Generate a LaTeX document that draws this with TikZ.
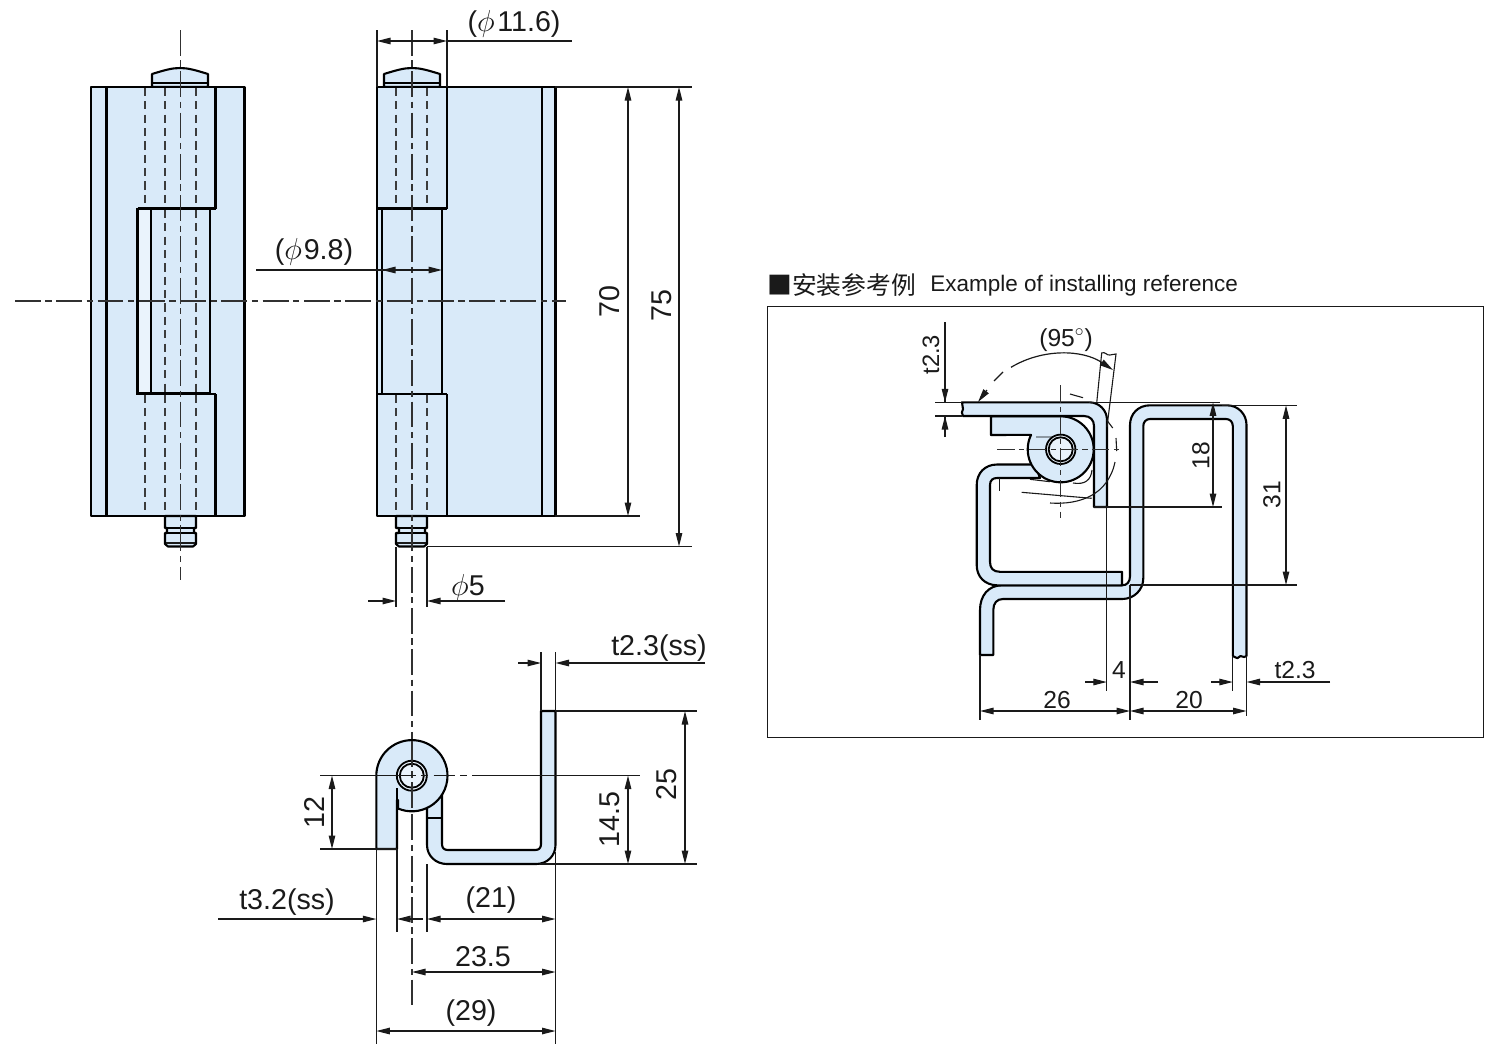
\documentclass[tikz,border=0pt]{standalone}
\usepackage{fontspec}
\setmainfont{Liberation Sans}
\newfontfamily\cjkfont{Noto Sans CJK SC}
\usetikzlibrary{arrows.meta}
\definecolor{partfill}{HTML}{D9EAF9}
\definecolor{partlight}{HTML}{EAF3FC}
\definecolor{inkc}{HTML}{1A1A1A}
\tikzset{
  x=0.02cm,y=-0.02cm,
  part/.style={draw=black,fill=partfill,line width=0.042cm,line join=round},
  edge/.style={draw=black,line width=0.042cm},
  hidden/.style={draw=inkc!85,line width=0.024cm,dash pattern=on 4.6pt off 3pt},
  centre/.style={draw=inkc!90,line width=0.024cm,dash pattern=on 14.7pt off 2.6pt on 3.6pt off 2.6pt},
  thin line/.style={draw=inkc,line width=0.022cm},
  dimline/.style={draw=inkc,line width=0.024cm,>={Triangle[length=0.27cm,width=0.13cm]}},
  lab/.style={font=\fontsize{16.3}{18}\selectfont,text=inkc,inner sep=0pt,yshift=-1pt},
  vlab/.style={lab,rotate=90},
}
\begin{document}
\begin{tikzpicture}
\fill[white] (0,0) rectangle (1500,1056);
\useasboundingbox (0,0) rectangle (1500,1056);

% ===== left view =====
\path[part] (152,87)--(152,74) .. controls (165,70) and (172,68) .. (180,68) .. controls (188,68) and (195,70) .. (208,74)--(208,87)--cycle;
\draw[edge] (152,83)--(208,83);
\path[part] (91,87) rectangle (244.5,516);
\draw[edge] (106.5,87)--(106.5,516);
\draw[edge] (106.5,87)--(215.5,87)--(215.5,208.5);
\draw[edge] (106.5,516)--(215.5,516)--(215.5,394);
\fill[partlight] (137.5,209) rectangle (150.7,393.5);
\draw[edge] (137.5,209) rectangle (210,393.5);
\draw[edge] (150.7,209)--(150.7,393.5);
\draw[edge] (137.5,208.5)--(215.5,208.5);
\draw[edge] (137.5,393.8)--(215.5,393.8);
\foreach \hx in {145,165,196}{\draw[hidden] (\hx,88)--(\hx,208);}
\foreach \hx in {145,165,196}{\draw[hidden] (\hx,395)--(\hx,515);}
\foreach \hx in {165,196}{\draw[hidden] (\hx,210)--(\hx,393);}
\path[part] (165,516)--(165,528)--(167,528)--(167,533)--(165,533)--(165,544)--(168,546.5)--(193,546.5)--(196,544)--(196,533)--(194,533)--(194,528)--(196,528)--(196,516)--cycle;
\draw[edge] (165,528)--(196,528);
\draw[edge] (165,533)--(196,533);
\draw[thin line] (166,543)--(195,543);

% ===== middle view =====
\path[part] (384,87)--(384,74) .. controls (397,70) and (404,68) .. (412,68) .. controls (420,68) and (427,70) .. (440,74)--(440,87)--cycle;
\draw[edge] (384,83)--(440,83);
\path[part] (377,87) rectangle (555.5,516);
\draw[edge] (542,87)--(542,516);
\draw[edge] (447,87)--(447,208.5);
\draw[edge] (447,394)--(447,516);
\draw[edge] (377,208.5)--(447,208.5);
\draw[edge] (377,393.8)--(447,393.8);
\draw[edge] (382,208.5)--(382,393.8);
\draw[edge] (442,208.5)--(442,393.8);
\foreach \hx in {396,427}{\draw[hidden] (\hx,88)--(\hx,208);}
\foreach \hx in {396,427}{\draw[hidden] (\hx,395)--(\hx,515);}
\path[part] (396,516)--(396,528)--(399,528)--(399,533)--(396,533)--(396,544)--(399,546.5)--(424,546.5)--(427,544)--(427,533)--(425,533)--(425,528)--(427,528)--(427,516)--cycle;
\draw[edge] (396,528)--(427,528);
\draw[edge] (396,533)--(427,533);
\draw[thin line] (397,543)--(426,543);

% centre lines
\draw[centre] (180.3,30)--(180.3,580);
\draw[centre] (412,30)--(412,1005);
\draw[centre] (15,301)--(566,301);

% ===== end view =====
\path[part] (427,800)--(427,845) .. controls (427,856) and (436,864) .. (447,864)--(536,864) .. controls (547,864) and (555.5,856) .. (555.5,845) -- (555.5,711) -- (541,711) -- (541,844) .. controls (541,848) and (539,850) .. (535,850) -- (448,850) .. controls (444,850) and (442,848) .. (442,844) -- (442,790) -- cycle;
\draw[edge] (427,818)--(442,818);
\path[part] (376.3,849)--(376.3,775.7) arc (180:473:35.6) --(398,800)--(397,800)--(397,849)--cycle;
\draw[edge] (397,800)--(397,788);
\draw[draw=black,fill=partlight,line width=0.036cm] (411.8,775.7) circle (15);
\draw[draw=black,fill=partlight,line width=0.036cm] (411.8,775.7) circle (12);
\draw[centre] (412,741)--(412,811);
\draw[dimline] (320,775.5)--(395,775.5);
\draw[dimline,dash pattern=on 12pt off 3pt on 4pt off 3pt] (395,775.5)--(480,775.5);
\draw[dimline] (480,775.5)--(640,775.5);

% ===== main dimensions =====
\draw[dimline] (377,30)--(377,87);
\draw[dimline,line width=0.03cm] (447,30)--(447,87);
\draw[dimline,<->] (377,41)--(447,41);
\draw[dimline] (447,41)--(572,41);
\node[lab] (lphi116) at (514,22) {($\phi$\kern1.5pt 11.6)};
\draw[dimline,<-] (382,270)--(396,270);
\draw[dimline] (256,270)--(382,270);
\draw[dimline,->] (382,270)--(442,270);
\node[lab] (lphi98) at (314,250) {($\phi$\kern1pt 9.8)};
\draw[dimline] (555,87)--(692,87);
\draw[dimline] (555,516)--(640,516);
\draw[dimline] (427,546.5)--(692,546.5);
\draw[dimline,<->] (628,87)--(628,516);
\draw[dimline,<->] (679,87)--(679,546.5);
\node[vlab] (l70) at (610,300) {70};
\node[vlab] (l75) at (662,304) {75};
\draw[dimline] (396,547)--(396,607);
\draw[dimline] (427,547)--(427,607);
\draw[dimline,->] (368,601)--(396,601);
\draw[dimline,->] (505,601)--(427,601);
\node[lab] (lphi5) at (468,586) {$\phi$5};

\draw[dimline] (541,652)--(541,711);
\draw[dimline] (555.5,652)--(555.5,711);
\draw[dimline,->] (518,663)--(541,663);
\draw[dimline,->] (705,663)--(555.5,663);
\node[lab] (ltss) at (659,646) {t2.3(ss)};
\draw[dimline] (555,711)--(697,711);
\draw[dimline] (540,864)--(697,864);
\draw[dimline,<->] (685,711)--(685,864);
\node[vlab] (l25) at (667,783) {25};
\draw[dimline,<->] (628,775.5)--(628,864);
\node[vlab] (l145) at (610,818) {14.5};
\draw[dimline] (320,849)--(397,849);
\draw[dimline,<->] (332,775.5)--(332,849);
\node[vlab] (l12) at (314,811) {12};

\draw[dimline] (376.3,849)--(376.3,1044);
\draw[dimline] (397,849)--(397,932);
\draw[dimline] (427,864)--(427,932);
\draw[dimline] (555.5,852)--(555.5,1044);
\draw[dimline,->] (218,919)--(376.3,919);
\draw[dimline,->] (423,919)--(397,919);
\draw[dimline,<->] (427,919)--(555.5,919);
\draw[dimline,<->] (412,972)--(555.5,972);
\draw[dimline,<->] (376.3,1031)--(555.5,1031);
\node[lab] (lt32) at (287,900) {t3.2(ss)};
\node[lab] (l21) at (491,898) {(21)};
\node[lab] (l235) at (483,955) {23.5};
\node[lab] (l29) at (471,1011) {(29)};

% ===== installing example =====
\node[anchor=west,inner sep=0pt,text=inkc,font=\cjkfont\fontsize{14.1}{16}\selectfont] (ttlcjk) at (767,285) {■安装参考例};
\node[anchor=west,inner sep=0pt,text=inkc,font=\fontsize{12.8}{15}\selectfont] (ttllat) at (930,286) {Example of installing reference};
\draw[draw=inkc,line width=0.02cm] (767,306) rectangle (1483,737);

% Z leaf, wave end
\path[part] (993.3,655)--(980,655)--(980,610) .. controls (980,596) and (988,585.3) .. (1002,585.3)--(1122,585.3) .. controls (1127,585.3) and (1130,582) .. (1130,576)--(1130,425) .. controls (1130,414) and (1138,405.3) .. (1150,405.3)--(1227,405.3) .. controls (1238,405.3) and (1246.5,414) .. (1246.5,425)--(1246.5,656) .. controls (1243,659) and (1241,654) .. (1239,657) .. controls (1237,660) and (1235,656) .. (1232.8,656)--(1232.8,426) .. controls (1232.8,422) and (1230,419) .. (1226,419)--(1150,419) .. controls (1146,419) and (1143.3,422) .. (1143.3,426)--(1143.3,578) .. controls (1143.3,590) and (1134,599) .. (1122,599)--(1003,599) .. controls (997,599) and (993.3,603) .. (993.3,610)--cycle;
% C leaf
\path[part] (1035,464.5)--(997,464.5) .. controls (985,464.5) and (976.7,473) .. (976.7,485)--(976.7,565) .. controls (976.7,577) and (985,585) .. (997,585.3)--(1122,585.3)--(1122,571.8)--(1000,571.8) .. controls (993,571.8) and (990,568) .. (990,562)--(990,485) .. controls (990,480) and (993,478) .. (997,478)--(1040,478)--cycle;
% knuckle
\path[part] (991,416.3)--(1060.7,416.3) arc (270:566:33) --(991,435)--cycle;
\fill[black!35!partfill] (1036,436) rectangle (1052,438);
\draw[draw=black,fill=partlight,line width=0.036cm] (1060.7,449.3) circle (14.7);
\draw[draw=black,fill=partlight,line width=0.036cm] (1060.7,449.3) circle (12);
% door leaf
\path[part] (962,402.3) .. controls (961,405) and (964,407) .. (963,409) .. controls (962,411) and (961,414) .. (963,416)--(1084,416) .. controls (1090,416) and (1094,420) .. (1094,426)--(1094,507)--(1107,507)--(1107,420) arc (0:-90:17.7)--(1089.3,402.3)--cycle;

% open position
\draw[thin line] (1096.7,403)--(1101.7,353) .. controls (1105,351) and (1107,356) .. (1110,355) .. controls (1112,354) and (1113,355) .. (1116,354)--(1107,427);
\draw[dimline,<-] (1113,370) arc (-56:-121:95);
\draw[dimline] (1003,372) -- (994,381);
\draw[dimline,->] (987,390)--(978,402);
% phantom arcs
\draw[thin line] (1070,394)--(1083,397.7);
\draw[thin line] (1106.7,420)--(1112.7,428);
\draw[thin line] (1116,438)--(1116.7,451);
\draw[thin line] (1115,462) .. controls (1108,495) and (1080,505) .. (1050,503);
\draw[thin line] (1073,483) .. controls (1085,485) and (1091,480) .. (1092,470);
\draw[thin line] (1021.7,492.3)--(1091.7,498.3);
\draw[thin line] (1030,479.3)--(1050,481.7);
\draw[thin line] (999.3,478)--(999.3,490.7);
% centre lines
\draw[centre,dash pattern=on 10pt off 2.5pt on 3pt off 2.5pt] (997,449.3)--(1122,449.3);
\draw[centre,dash pattern=on 10pt off 2.5pt on 3pt off 2.5pt] (1060.7,385)--(1060.7,518);

% dims
\draw[dimline] (945,322)--(945,402.3);
\draw[dimline] (945,416)--(945,437);
\draw[dimline,->] (945,385)--(945,402.3);
\draw[dimline,->] (945,437)--(945,416);
\draw[dimline] (935,402.3)--(962,402.3);
\draw[dimline] (935,416)--(962,416);
\draw[dimline] (1089,402.3)--(1220,402.3);
\node[vlab] (lt23a) at (931,353) {\fontsize{13.5}{15}\selectfont t2.3};
\node[lab] (l95) at (1066,338) {\fontsize{14}{16}\selectfont(95$^{\circ}$)};
\draw[dimline,<->] (1213,402.3)--(1213,507);
\draw[dimline] (1094,507)--(1222,507);
\node[vlab] (l18) at (1201,454) {\fontsize{14}{16}\selectfont 18};
\draw[dimline] (1222,405.3)--(1297,405.3);
\draw[dimline] (1130,585)--(1297,585);
\draw[dimline,<->] (1286,405.3)--(1286,585);
\node[vlab] (l31) at (1272,493) {\fontsize{14}{16}\selectfont 31};
\draw[dimline] (1106.8,507)--(1106.8,691);
\draw[dimline] (1130,585)--(1130,720);
\draw[dimline] (980,655)--(980,720);
\draw[dimline] (1232.8,656)--(1232.8,691);
\draw[dimline] (1246.5,656)--(1246.5,716);
\draw[dimline,->] (1085,682)--(1106.8,682);
\draw[dimline,->] (1158,682)--(1130,682);
\draw[dimline,->] (1211,682)--(1232.8,682);
\draw[dimline,->] (1330,682)--(1246.5,682);
\draw[dimline,<->] (980,711)--(1130,711);
\draw[dimline,<->] (1130,711)--(1246.5,711);
\node[lab] (l4) at (1119,668) {\fontsize{14}{16}\selectfont 4};
\node[lab] (lt23b) at (1295,668) {\fontsize{14}{16}\selectfont t2.3};
\node[lab] (l26) at (1057,698) {\fontsize{14}{16}\selectfont 26};
\node[lab] (l20) at (1189,698) {\fontsize{14}{16}\selectfont 20};
\end{tikzpicture}
\end{document}
